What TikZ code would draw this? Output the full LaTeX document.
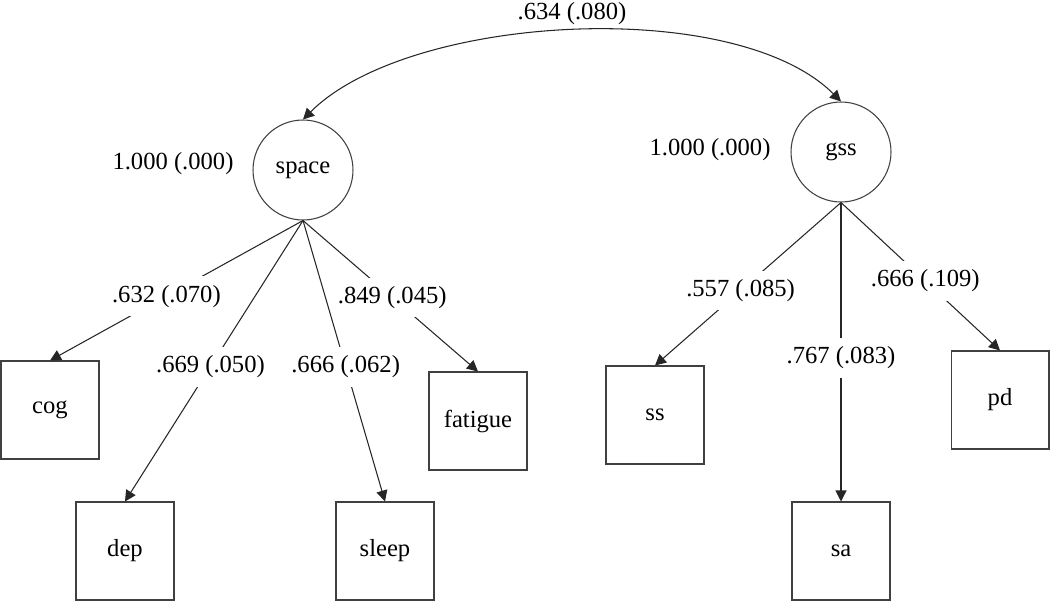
\documentclass[tikz,border=0pt]{standalone}
\usepackage{fontspec}
\setmainfont{Liberation Serif}
\usetikzlibrary{arrows.meta}
\begin{document}
\begin{tikzpicture}[x=0.02cm,y=-0.02cm,
    font=\fontsize{14}{17}\selectfont,
    latent/.style={draw=black!75,line width=0.6pt,circle,minimum size=2cm,inner sep=0pt},
    obs/.style={draw=black!75,line width=0.6pt,rectangle,minimum size=1.96cm,inner sep=0pt},
    lbl/.style={fill=white,inner xsep=1pt,inner ysep=5pt},
    >={Triangle[length=0.22cm,width=0.22cm]}]
  \useasboundingbox (0,0) rectangle (1050,602);
  \draw
    (303,170) node[latent] (space){space}
    (841,152) node[latent] (gss){gss}
    (50,410) node[obs] (cog){cog}
    (125,551) node[obs] (dep){dep}
    (385,551) node[obs] (sleep){sleep}
    (478,421) node[obs] (fatigue){fatigue}
    (655,415) node[obs] (ss){ss}
    (841,551) node[obs] (sa){sa}
    (1000,400) node[obs] (pd){pd}
    (173,164) node (vspace){1.000 (.000)}
    (710,150) node (vgss){1.000 (.000)};
  \begin{scope}[->,draw=black!85,line width=0.6pt]
    \draw (space.south) to node[lbl,pos=.54]{.632 (.070)} (cog.north);
    \draw (space.south) to node[lbl,pos=.52]{.669 (.050)} (dep.north);
    \draw (space.south) to node[lbl,pos=.52]{.666 (.062)} (sleep.north);
    \draw (space.south) to node[lbl,pos=.51]{.849 (.045)} (fatigue.north);
    \draw (gss.south) to node[lbl,pos=.54]{.557 (.085)} (ss.north);
    \draw (gss.south) to node[lbl,pos=.52]{.767 (.083)} (sa.north);
    \draw (gss.south) to node[lbl,pos=.53]{.666 (.109)} (pd.north);
    \draw[<->] (space.north) to[out=45,in=135,looseness=.71]
      node[above]{.634 (.080)} (gss.north);
  \end{scope}
\end{tikzpicture}
\end{document}
